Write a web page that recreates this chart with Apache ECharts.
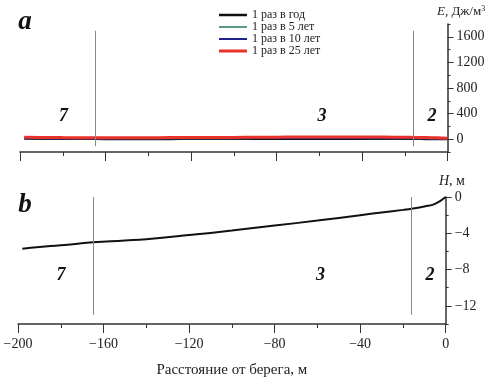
<!DOCTYPE html>
<html>
<head>
<meta charset="utf-8">
<script src="https://cdn.jsdelivr.net/npm/echarts@6/dist/echarts.min.js"></script>
<style>
html,body{margin:0;padding:0;background:#fff;}
#chart{width:491px;height:378px;}
</style>
</head>
<body>
<div id="chart"></div>
<script>
// ---- data ----
const seriesNames = ['1 раз в год', '1 раз в 5 лет', '1 раз в 10 лет', '1 раз в 25 лет'];
const energyX = [-198,-190,-180,-170,-160,-150,-140,-130,-120,-110,-100,-90,-80,-70,-60,-50,-40,-30,-20,-15,-10,-5,0];
const energy1 = [10,8,6,6,5,5,5,5,6,6,6,7,7,8,8,8,8,7,6,6,5,5,4];
const energy5 = [12,12,10,10,10,10,10,11,11,12,12,13,13,14,14,14,13,12,11,10,9,8,6];
const energy10 = [14,13,12,12,12,13,13,14,14,15,16,17,18,19,20,20,19,17,15,14,13,11,9];
const energy25 = [30,28,25,24,23,23,24,25,26,27,28,30,32,34,36,36,35,33,30,28,26,22,16];
const depthX = [-198,-190,-180,-165,-150,-140,-120,-100,-80,-60,-40,-30,-20,-16,-10,-5,0];
const depthH = [-5.7,-5.5,-5.32,-5.0,-4.8,-4.65,-4.2,-3.7,-3.15,-2.6,-2.0,-1.7,-1.42,-1.3,-1.05,-0.75,0];
const zoneBounds = [-165, -16];
const zoneLabels = ['7', '3', '2'];
const energyTicks = [0, 400, 800, 1200, 1600];
const depthTicks = [0, -4, -8, -12];

const FONT = '"Liberation Serif", "Times New Roman", serif';
const AX = '#333';
const minus = v => String(v).replace('-', '\u2212');
const colors = ['#111111', '#2a7a5a', '#22228f', '#e8322a'];
const widths = [2.5, 1.5, 2, 3];

const chart = echarts.init(document.getElementById('chart'), null, {renderer: 'canvas'});

function seriesLine(name, xs, ys, color, width) {
  return {
    name: name, type: 'line', xAxisIndex: 0, yAxisIndex: 0,
    data: xs.map((x, i) => [x, ys[i]]),
    symbol: 'none', smooth: true, animation: false,
    lineStyle: {color: color, width: width}, itemStyle: {color: color}
  };
}

function zoneLines(yTop, yBot) {
  return {
    silent: true, symbol: 'none', animation: false,
    label: {show: false},
    lineStyle: {color: '#888', width: 1, type: 'solid'},
    data: zoneBounds.map(z => [{coord: [z, yTop]}, {coord: [z, yBot]}])
  };
}

// legend icon: a band of given thickness centred in a 28x12 box
function bandIcon(w) {
  const a = (6 - w / 2).toFixed(2), b = (6 + w / 2).toFixed(2);
  return 'path://M0,0L28,0L28,0.01L0,0.01Z M0,' + a + 'L28,' + a + 'L28,' + b + 'L0,' + b + 'Z M0,12L28,12L28,12.01L0,12.01Z';
}

const topSeries = seriesNames.map((n, i) =>
  seriesLine(n, energyX, [energy1, energy5, energy10, energy25][i], colors[i], widths[i]));
topSeries[0].markLine = zoneLines(1694, -110);

const depthSeries = {
  name: 'H', type: 'line', xAxisIndex: 1, yAxisIndex: 2,
  data: depthX.map((x, i) => [x, depthH[i]]),
  symbol: 'none', smooth: true, animation: false,
  lineStyle: {color: '#111', width: 2},
  markLine: zoneLines(0, -13)
};

function xAxisCfg(grid, showLabels) {
  return {
    type: 'value', gridIndex: grid, min: -200, max: 0, interval: 40,
    position: 'bottom',
    axisLine: {show: true, lineStyle: {color: AX, width: 1.5}, onZero: false},
    axisTick: {show: true, length: 9, lineStyle: {color: AX, width: 1}},
    minorTick: {show: true, splitNumber: 2, length: 4, lineStyle: {color: AX, width: 1}},
    splitLine: {show: false},
    axisLabel: {show: showLabels, margin: 13, fontFamily: FONT, fontSize: 14, color: '#222',
      formatter: v => minus(v)},
    name: showLabels ? 'Расстояние от берега, м' : '',
    nameLocation: 'middle', nameGap: 46, nameMoveOverlap: false,
    nameTextStyle: {fontFamily: FONT, fontSize: 15, color: '#222', verticalAlign: 'middle'}
  };
}

function yMajor(grid, min, max, ticks) {
  return {
    type: 'value', gridIndex: grid, min: min, max: max, position: 'right',
    axisLine: {show: true, lineStyle: {color: AX, width: 1.5}, onZero: false},
    axisTick: {show: true, length: 6, customValues: ticks, lineStyle: {color: AX, width: 1}},
    axisLabel: {show: true, margin: 9, customValues: ticks, fontFamily: FONT, fontSize: 14, color: '#222',
      formatter: v => minus(v)},
    splitLine: {show: false}
  };
}
function yMinor(grid, min, max, step) {
  return {
    type: 'value', gridIndex: grid, min: min, max: max, interval: step, position: 'right',
    axisLine: {show: false},
    axisTick: {show: true, length: 3, lineStyle: {color: AX, width: 1}},
    axisLabel: {show: false},
    splitLine: {show: false}
  };
}

const txt = (t, x, y, size) => ({
  type: 'text', x: x, y: y, silent: true,
  style: {text: t, fill: '#111', font: 'italic bold ' + size + 'px ' + FONT,
    align: 'center', verticalAlign: 'middle'}
});

const zoneTextTop = [[63.5, 116], [322, 116], [432, 116]];
const zoneTextBot = [[61, 275.5], [320.5, 275.5], [430, 275]];

const option = {
  backgroundColor: '#fff',
  animation: false,
  grid: [
    {left: 20, right: 43.5, top: 24, height: 128, outerBoundsMode: 'none', containLabel: false},
    {left: 18, right: 45.3, top: 197, height: 127, outerBoundsMode: 'none', containLabel: false}
  ],
  legend: {
    data: seriesNames.map((n, i) => ({name: n, icon: bandIcon(widths[i]), itemStyle: {color: colors[i]}})),
    orient: 'vertical', left: 219, top: 9, padding: 0,
    itemWidth: 28, itemHeight: 12, itemGap: 0,
    textStyle: {fontFamily: FONT, fontSize: 12, color: '#222', lineHeight: 12}
  },
  xAxis: [xAxisCfg(0, false), xAxisCfg(1, true)],
  yAxis: [
    yMajor(0, -200, 1800, energyTicks),
    yMinor(0, -200, 1800, 200),
    yMajor(1, -14, 0, depthTicks),
    yMinor(1, -14, 0, 2)
  ],
  series: topSeries.concat([depthSeries]),
  graphic: [
    txt('a', 25, 22, 27),
    txt('b', 25, 205, 27),
    {
      type: 'text', x: 437, y: 12, silent: true,
      style: {
        text: '{i|E}, Дж/м{s|3}', align: 'left', verticalAlign: 'middle',
        font: '13px ' + FONT, fill: '#222',
        rich: {i: {fontStyle: 'italic', fontFamily: FONT, fontSize: 13},
               s: {fontFamily: FONT, fontSize: 8, verticalAlign: 'top', padding: [0, 0, 6, 0]}}
      }
    },
    {
      type: 'text', x: 439, y: 181, silent: true,
      style: {
        text: '{i|H}, м', align: 'left', verticalAlign: 'middle',
        font: '14px ' + FONT, fill: '#222',
        rich: {i: {fontStyle: 'italic', fontFamily: FONT, fontSize: 14}}
      }
    }
  ].concat(zoneLabels.map((l, i) => txt(l, zoneTextTop[i][0], zoneTextTop[i][1], 18)))
   .concat(zoneLabels.map((l, i) => txt(l, zoneTextBot[i][0], zoneTextBot[i][1], 18)))
};
chart.setOption(option);
</script>
</body>
</html>
